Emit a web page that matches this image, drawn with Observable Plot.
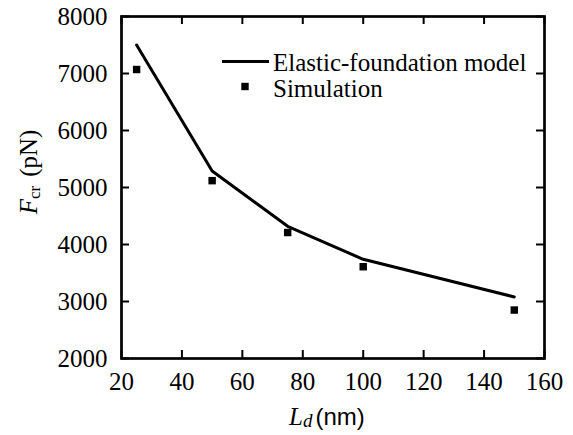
<!DOCTYPE html>
<html>
<head>
<meta charset="utf-8">
<script src="https://cdn.jsdelivr.net/npm/d3@7"></script>
<script src="https://cdn.jsdelivr.net/npm/@observablehq/plot@0.6"></script>
<style>
  html, body { margin: 0; padding: 0; background: #fff; }
  svg { display: block; }
  svg text, svg tspan { font-family: "Liberation Serif", "Times New Roman", serif; }
  svg .sans { font-family: "Liberation Sans", Arial, sans-serif; }
</style>
</head>
<body>
<div id="chart"></div>
<script>
// Data
const lengths = [25, 50, 75, 100, 150];                 // L_d (nm)
const modelForce = [7500, 5290, 4320, 3740, 3080];      // Elastic-foundation model (pN)
const simForce = [7070, 5120, 4210, 3610, 2850];        // Simulation (pN)
const xTicks = [20, 40, 60, 80, 100, 120, 140, 160];
const yTicks = [2000, 3000, 4000, 5000, 6000, 7000, 8000];
const seriesNames = ["Elastic-foundation model", "Simulation"];

const model = lengths.map((L, i) => ({L, F: modelForce[i]}));
const sim = lengths.map((L, i) => ({L, F: simForce[i]}));

const serif = "Liberation Serif";

const W = 573, H = 435, ML = 121, MR = 29, MT = 16, MB = 77;
const tickLen = 8;
const innerW = W - ML - MR, innerH = H - MT - MB;

const svg = Plot.plot({
  width: W,
  height: H,
  marginLeft: ML,
  marginRight: MR,
  marginTop: MT,
  marginBottom: MB,
  style: {color: "#000", background: "#fff", overflow: "visible"},
  x: {domain: [20, 160]},
  y: {domain: [2000, 8000]},
  marks: [
    // tick labels
    Plot.axisX({ticks: xTicks, anchor: "bottom", tickSize: 0, tickPadding: 14, tickFormat: d => String(d),
      fontFamily: serif, fontSize: 25, fill: "#000", label: null}),
    Plot.axisY({ticks: yTicks, anchor: "left", tickSize: 0, tickPadding: 14, tickFormat: d => String(d),
      fontFamily: serif, fontSize: 25, fill: "#000", label: null}),
    // inward ticks on all four sides
    Plot.ruleX(xTicks, {x: d => d, insetTop: innerH - tickLen, stroke: "#000", strokeWidth: 2}),
    Plot.ruleX(xTicks, {x: d => d, insetBottom: innerH - tickLen, stroke: "#000", strokeWidth: 2}),
    Plot.ruleY(yTicks, {y: d => d, insetRight: innerW - tickLen, stroke: "#000", strokeWidth: 2}),
    Plot.ruleY(yTicks, {y: d => d, insetLeft: innerW - tickLen, stroke: "#000", strokeWidth: 2}),
    Plot.frame({stroke: "#000", strokeWidth: 2.7}),
    Plot.line(model, {x: "L", y: "F", stroke: "#000", strokeWidth: 3}),
    Plot.dot(sim, {x: "L", y: "F", symbol: "square", r: 4.2, fill: "#000", stroke: "none"})
  ]
});

document.getElementById("chart").appendChild(svg);

const s = d3.select(svg);

// Legend
const lg = s.append("g").attr("font-size", 25).attr("fill", "#000").attr("text-anchor", "start");
lg.append("line").attr("x1", 222).attr("x2", 269).attr("y1", 61.5).attr("y2", 61.5)
  .attr("stroke", "#000").attr("stroke-width", 3);
lg.append("text").attr("x", 273).attr("y", 71).text(seriesNames[0]);
lg.append("path").attr("d", d3.symbol(d3.symbolSquare, 7.4 * 7.4)()).attr("transform", "translate(245,86.5)").attr("fill", "#000");
lg.append("text").attr("x", 273).attr("y", 97).text(seriesNames[1]);

// X axis label: L_d (nm)
const xl = s.append("text").attr("x", 289).attr("y", 425).attr("fill", "#000").attr("text-anchor", "start");
xl.append("tspan").attr("font-style", "italic").attr("font-size", 25).text("L");
xl.append("tspan").attr("font-style", "italic").attr("font-size", 19).attr("dy", 2).text("d");
xl.append("tspan").attr("class", "sans").attr("font-size", 24).attr("dy", -2).attr("dx", 3).text("(nm)");

// Y axis label: F_cr (pN)
const yl = s.append("text").attr("transform", "translate(37,172) rotate(-90)").attr("text-anchor", "middle").attr("fill", "#000");
yl.append("tspan").attr("font-style", "italic").attr("font-size", 25).text("F");
yl.append("tspan").attr("font-size", 17).attr("dy", 3).text("cr");
yl.append("tspan").attr("font-size", 25).attr("dy", -3).attr("dx", 9).text("(pN)");
</script>
</body>
</html>
